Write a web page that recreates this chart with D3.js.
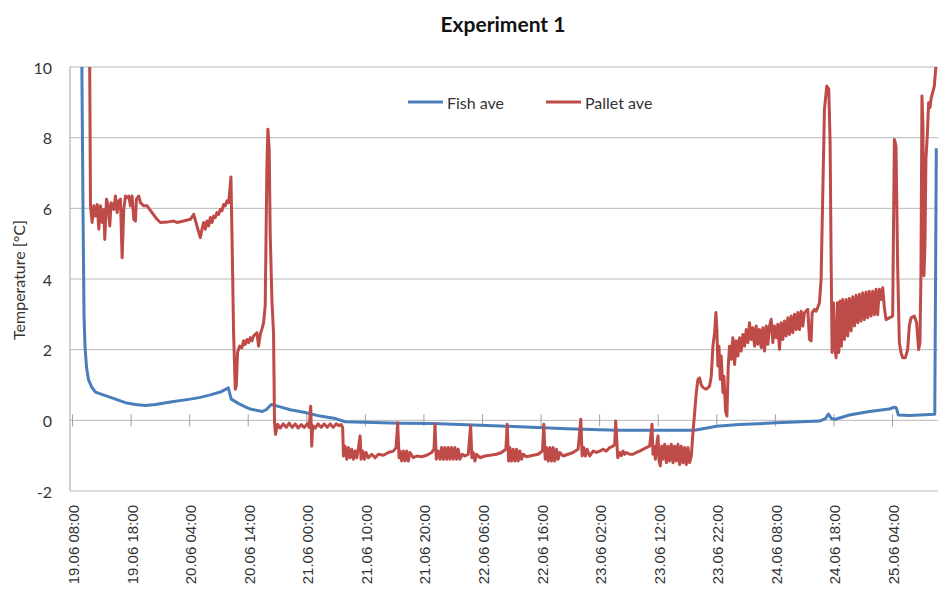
<!DOCTYPE html>
<head>
    <meta charset="utf-8">
    <script src="https://d3js.org/d3.v7.min.js"></script>
</head>
<body style="margin:0; background: white">
<div id="chart"></div>
<script>
// hours after 19.06 08:00, temperature in °C
var fishHours = [1.5, 1.79, 1.96, 2.13, 2.39, 2.73, 3.24, 3.92, 4.77, 6.48, 8.18, 9.04, 10.74, 12.45, 14.15, 16.71, 20.12, 21.82, 23.53, 25.23, 26.6, 27.1, 28.3, 29.5, 30.35, 32.4, 33.08, 33.93, 35.46, 37.17, 39.73, 42.28, 44.9, 46.55, 55.92, 61.55, 72.97, 84.4, 92.9, 106.22, 109.97, 113.89, 120.2, 127.53, 128.55, 129.06, 129.57, 130.25, 132.64, 136.05, 139.46, 140.32, 140.66, 141.0, 142.87, 147.22, 147.48];
var fishTemp = [12, 6, 3, 2.1, 1.5, 1.15, 0.95, 0.8, 0.75, 0.65, 0.55, 0.5, 0.45, 0.42, 0.45, 0.52, 0.6, 0.65, 0.72, 0.8, 0.92, 0.6, 0.48, 0.38, 0.32, 0.25, 0.3, 0.45, 0.38, 0.3, 0.22, 0.12, 0.05, -0.04, -0.08, -0.09, -0.16, -0.24, -0.28, -0.28, -0.17, -0.12, -0.07, -0.02, 0.05, 0.18, 0.05, 0.03, 0.15, 0.25, 0.32, 0.37, 0.35, 0.15, 0.14, 0.17, 7.7];

var palletHours = [2.9, 3.07, 3.35, 3.64, 3.92, 4.21, 4.49, 4.77, 5.06, 5.34, 5.51, 5.8, 6.08, 6.36, 6.59, 7.05, 7.33, 7.62, 7.9, 8.18, 8.47, 8.75, 9.04, 9.32, 9.6, 9.89, 10.17, 10.46, 10.74, 10.91, 11.31, 11.59, 12.16, 12.73, 13.58, 14.43, 15.0, 16.14, 17.28, 17.84, 18.98, 20.12, 20.69, 21.25, 21.82, 22.11, 22.39, 22.67, 22.96, 23.24, 23.53, 23.81, 24.1, 24.38, 24.66, 24.95, 25.23, 25.51, 25.8, 26.08, 26.37, 26.65, 26.82, 27.05, 27.22, 27.5, 27.79, 27.96, 28.18, 28.53, 28.92, 29.21, 29.49, 29.78, 30.06, 30.35, 30.63, 30.91, 31.2, 31.48, 31.77, 32.05, 32.33, 32.62, 32.9, 33.19, 33.36, 33.58, 33.75, 34.04, 34.32, 34.49, 34.66, 35.0, 35.46, 35.98, 36.49, 37.0, 37.51, 38.02, 38.53, 39.04, 39.56, 40.07, 40.41, 40.67, 40.84, 41.01, 41.43, 41.94, 42.45, 42.97, 43.48, 43.99, 44.5, 45.01, 45.52, 45.86, 46.12, 46.26, 46.54, 46.83, 47.11, 47.39, 47.68, 47.96, 48.25, 48.53, 48.82, 49.1, 49.27, 49.55, 49.84, 50.12, 50.52, 51.09, 51.66, 52.23, 53.08, 53.93, 54.78, 55.24, 55.52, 55.75, 55.92, 56.2, 56.49, 56.77, 57.06, 57.34, 57.62, 58.19, 58.76, 59.61, 60.47, 61.32, 61.72, 61.89, 62.11, 62.45, 62.74, 63.02, 63.31, 63.59, 63.88, 64.16, 64.44, 64.73, 65.01, 65.3, 65.58, 65.86, 66.15, 66.55, 67.0, 67.57, 67.97, 68.19, 68.42, 68.71, 68.99, 69.56, 70.41, 71.26, 72.4, 73.25, 73.99, 74.22, 74.45, 74.67, 74.96, 75.24, 75.53, 75.81, 76.09, 76.38, 76.66, 76.95, 77.51, 78.65, 79.5, 80.24, 80.47, 80.7, 80.92, 81.21, 81.49, 81.78, 82.06, 82.34, 82.63, 82.91, 83.2, 83.77, 84.62, 85.47, 86.32, 86.78, 87.01, 87.29, 87.57, 87.86, 88.31, 88.88, 89.45, 90.02, 90.59, 91.15, 91.72, 92.29, 92.57, 92.74, 93.09, 93.43, 93.71, 94.0, 94.28, 94.57, 95.13, 95.7, 96.27, 96.84, 97.41, 97.98, 98.54, 98.94, 99.11, 99.28, 99.51, 99.79, 99.97, 100.14, 100.36, 100.59, 100.82, 101.1, 101.39, 101.67, 101.95, 102.24, 102.52, 102.81, 103.09, 103.37, 103.66, 103.94, 104.23, 104.51, 104.8, 105.08, 105.36, 105.65, 105.93, 106.22, 106.5, 106.78, 107.07, 107.35, 107.64, 108.21, 108.77, 109.06, 109.34, 109.63, 109.85, 110.02, 110.19, 110.37, 110.59, 110.76, 111.05, 111.22, 111.5, 111.73, 111.96, 112.18, 112.47, 112.75, 113.04, 113.32, 113.6, 113.89, 114.17, 114.46, 114.74, 115.03, 115.31, 115.59, 115.88, 116.16, 116.45, 116.73, 117.01, 117.3, 117.58, 117.87, 118.15, 118.44, 118.72, 119.0, 119.29, 119.57, 119.86, 120.14, 120.43, 120.71, 120.99, 121.28, 121.56, 121.85, 122.13, 122.41, 122.7, 122.98, 123.27, 123.55, 123.83, 124.12, 124.4, 124.69, 124.97, 125.25, 125.54, 125.82, 126.11, 126.28, 126.67, 126.96, 127.24, 127.53, 127.81, 128.1, 128.38, 128.78, 129.12, 129.35, 129.52, 129.69, 129.92, 130.14, 130.37, 130.6, 130.83, 131.05, 131.28, 131.51, 131.79, 132.08, 132.36, 132.64, 132.93, 133.21, 133.5, 133.78, 134.07, 134.35, 134.63, 134.92, 135.2, 135.49, 135.77, 136.05, 136.34, 136.62, 136.91, 137.19, 137.47, 137.76, 138.04, 138.33, 138.61, 138.9, 139.46, 140.03, 140.32, 140.6, 140.88, 141.17, 141.45, 141.74, 142.19, 142.59, 142.87, 143.16, 143.73, 144.12, 144.46, 144.69, 144.86, 145.03, 145.2, 145.37, 145.54, 145.71, 145.94, 146.17, 146.4, 146.62, 146.85, 147.14, 147.42, 147.65];
var palletTemp = [11, 6.07, 5.6, 6.07, 5.78, 6.11, 5.41, 6.07, 5.6, 5.97, 5.12, 6.26, 6.07, 5.5, 6.16, 5.97, 6.35, 5.88, 6.21, 6.26, 4.6, 5.97, 6.35, 6.3, 6.35, 6.07, 6.35, 5.69, 5.64, 6.26, 6.35, 6.16, 6.07, 6.07, 5.88, 5.69, 5.6, 5.61, 5.64, 5.6, 5.64, 5.69, 5.83, 5.5, 5.17, 5.41, 5.6, 5.41, 5.64, 5.5, 5.74, 5.6, 5.78, 5.74, 5.88, 5.83, 5.97, 5.93, 6.11, 6.07, 6.21, 6.16, 6.44, 6.89, 5.31, 2.48, 0.88, 0.97, 1.92, 2.1, 2.05, 2.25, 2.15, 2.29, 2.2, 2.34, 2.25, 2.39, 2.43, 2.48, 2.1, 2.43, 2.58, 2.76, 3.24, 7.2, 8.24, 7.67, 5.31, 3.42, 2.48, -0.07, -0.4, -0.11, -0.22, -0.1, -0.2, -0.08, -0.2, -0.1, -0.22, -0.12, -0.2, -0.1, -0.2, 0.4, -0.73, -0.15, -0.22, -0.1, -0.2, -0.1, -0.2, -0.1, -0.2, -0.1, -0.15, -0.12, -0.2, -1.01, -0.73, -1.1, -0.77, -1.06, -0.82, -1.1, -0.87, -1.06, -0.77, -0.44, -1.1, -0.87, -1.1, -0.91, -1.06, -0.96, -1.06, -0.96, -0.99, -0.91, -0.87, -0.77, -0.07, -1.06, -0.87, -1.15, -0.87, -1.15, -0.87, -1.15, -0.91, -1.06, -1.01, -1.03, -0.99, -0.91, -0.82, -0.11, -1.1, -0.87, -1.1, -0.77, -1.1, -0.77, -1.1, -0.77, -1.1, -0.77, -1.1, -0.77, -1.1, -0.82, -1.1, -0.96, -1.01, -0.96, -0.16, -1.06, -0.91, -1.15, -0.96, -1.06, -1.01, -0.99, -0.96, -0.91, -0.82, -0.11, -1.15, -0.77, -1.15, -0.82, -1.15, -0.82, -1.15, -0.87, -1.1, -0.96, -1.03, -0.99, -0.96, -0.87, -0.11, -1.1, -0.77, -1.15, -0.77, -1.15, -0.77, -1.15, -0.82, -1.1, -0.91, -1.01, -0.96, -0.91, -0.82, 0.03, -1.01, -0.77, -1.01, -0.82, -1.01, -0.87, -0.91, -0.87, -0.82, -0.87, -0.77, -0.73, -0.68, -0.02, -1.06, -0.91, -1.0, -0.87, -0.96, -0.91, -0.96, -0.96, -0.91, -0.87, -0.82, -0.77, -0.73, -0.11, -0.96, -0.73, -1.1, -0.63, -0.44, -1.15, -1.29, -0.73, -1.1, -0.68, -1.2, -0.73, -1.15, -0.68, -1.2, -0.73, -1.15, -0.68, -1.25, -0.73, -1.2, -0.77, -1.25, -0.77, -1.2, -1.01, -0.35, 0.22, 0.78, 1.16, 1.2, 1.0, 0.93, 0.88, 0.97, 1.25, 2.1, 2.48, 3.05, 2.57, 1.54, 2.1, 1.16, 1.82, 0.78, 1.25, 0.26, 0.12, 1.54, 2.1, 1.73, 2.34, 1.58, 2.25, 1.82, 2.34, 1.96, 2.43, 2.1, 2.57, 2.2, 2.76, 2.29, 2.62, 2.1, 2.67, 2.15, 2.57, 2.06, 2.62, 1.96, 2.67, 2.15, 2.67, 2.86, 2.2, 2.67, 2.34, 2.72, 2.01, 2.76, 2.29, 2.81, 2.39, 2.9, 2.43, 2.95, 2.48, 3.0, 2.57, 3.05, 2.57, 3.09, 2.67, 3.05, 3.09, 3.14, 2.29, 2.25, 3.05, 3.14, 3.09, 3.19, 3.33, 3.99, 6.44, 8.8, 9.46, 9.37, 7.86, 4.56, 1.92, 3.33, 2.1, 1.77, 3.33, 1.92, 3.38, 2.1, 3.42, 2.29, 3.42, 2.39, 3.45, 2.53, 3.5, 2.67, 3.54, 2.76, 3.57, 2.81, 3.61, 2.85, 3.63, 2.9, 3.65, 2.95, 3.65, 2.99, 3.71, 2.99, 3.71, 3.42, 3.75, 3.19, 2.85, 2.9, 2.95, 7.95, 7.76, 4.37, 2.2, 1.92, 1.77, 1.77, 2.0, 2.67, 2.9, 2.95, 2.76, 2.0, 2.2, 4.18, 9.18, 8.33, 4.09, 4.93, 7.39, 8.05, 8.99, 8.85, 9.13, 9.27, 9.46, 10.03, 10.6];

var yTicks = [-2, 0, 2, 4, 6, 8, 10];
var xTickHours = [0, 10, 20, 30, 40, 50, 60, 70, 80, 90, 100, 110, 120, 130, 140];
var seriesNames = ["Fish ave", "Pallet ave"];
var colors = ["#4a7ebb", "#be4b48"];

var start = new Date(2011, 5, 19, 8, 0);
var toDate = h => new Date(start.getTime() + h * 3600000);

var W = 939, H = 596;
var plotL = 70, plotR = 938, plotT = 67, plotB = 491;

var svg = d3.select("#chart").append("svg")
    .attr("width", W).attr("height", H)
    .style("font-family", "Lato, 'Open Sans', sans-serif");

var x = d3.scaleTime()
    .domain([toDate(-0.43), toDate(147.77)])
    .range([plotL, plotR]);
var y = d3.scaleLinear().domain([-2, 10]).range([plotB, plotT]);

// gridlines
svg.selectAll(".grid").data(yTicks).enter().append("line")
    .attr("x1", plotL).attr("x2", plotR)
    .attr("y1", d => y(d)).attr("y2", d => y(d))
    .attr("stroke", "#b8b8b8").attr("stroke-width", 1);

// left axis line
svg.append("line").attr("x1", plotL).attr("x2", plotL)
    .attr("y1", plotT).attr("y2", plotB)
    .attr("stroke", "#a0a0a0");

// y tick labels
svg.selectAll(".ylab").data(yTicks).enter().append("text")
    .attr("x", 52).attr("y", d => y(d))
    .attr("text-anchor", "end").attr("dominant-baseline", "central")
    .attr("font-size", 16).attr("fill", "#333")
    .text(d => d);

// x ticks on the zero line
svg.selectAll(".xtick").data(xTickHours).enter().append("line")
    .attr("x1", d => x(toDate(d))).attr("x2", d => x(toDate(d)))
    .attr("y1", y(0) - 6).attr("y2", y(0) + 6)
    .attr("stroke", "#a0a0a0");

var fmt = d3.timeFormat("%d.%m %H:%M");
svg.selectAll(".xlab").data(xTickHours).enter().append("text")
    .attr("transform", d => "translate(" + (x(toDate(d)) + 1) + ",505) rotate(-90)")
    .attr("text-anchor", "end").attr("dominant-baseline", "central")
    .attr("font-family", "'Liberation Sans', Arial, sans-serif")
    .attr("font-size", 15).attr("fill", "#333")
    .text(d => fmt(toDate(d)));

// lines
svg.append("clipPath").attr("id", "plot").append("rect")
    .attr("x", plotL).attr("y", plotT).attr("width", plotR - plotL + 2).attr("height", plotB - plotT);

var line = d3.line().x(d => x(toDate(d[0]))).y(d => y(d[1]));
var fish = fishHours.map((h, i) => [h, fishTemp[i]]);
var pallet = palletHours.map((h, i) => [h, palletTemp[i]]);

[fish, pallet].forEach(function (data, i) {
    svg.append("path").datum(data)
        .attr("clip-path", "url(#plot)")
        .attr("fill", "none")
        .attr("stroke", colors[i])
        .attr("stroke-width", 3)
        .attr("stroke-linejoin", "round")
        .attr("d", line);
});

// title
svg.append("text").attr("x", 503).attr("y", 23)
    .attr("text-anchor", "middle").attr("dominant-baseline", "central")
    .attr("font-size", 21).attr("font-weight", "bold").attr("fill", "#111")
    .text("Experiment 1");

// y axis title
svg.append("text").attr("transform", "translate(18,280) rotate(-90)")
    .attr("text-anchor", "middle").attr("dominant-baseline", "central")
    .attr("font-size", 16).attr("fill", "#333")
    .text("Temperature [°C]");

// legend
var legendX = [408, 546];
seriesNames.forEach(function (name, i) {
    svg.append("line").attr("x1", legendX[i]).attr("x2", legendX[i] + 35)
        .attr("y1", 102).attr("y2", 102)
        .attr("stroke", colors[i]).attr("stroke-width", 3);
    svg.append("text").attr("x", legendX[i] + 39).attr("y", 102)
        .attr("dominant-baseline", "central")
        .attr("font-size", 16).attr("fill", "#333")
        .text(name);
});
</script>
</body>
</html>
